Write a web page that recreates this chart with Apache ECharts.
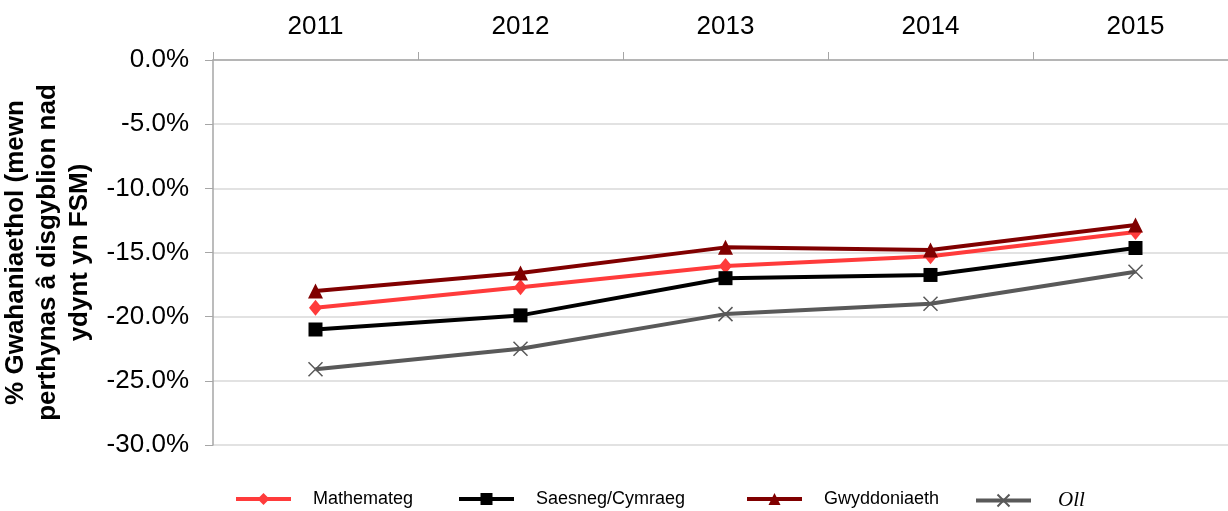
<!DOCTYPE html>
<html>
<head>
<meta charset="utf-8">
<script src="https://cdn.jsdelivr.net/npm/echarts@6/dist/echarts.min.js"></script>
<style>
  html, body { margin: 0; padding: 0; background: #fff; }
  #chart { width: 1228px; height: 511px; }
</style>
</head>
<body>
<div id="chart"></div>
<script>
var years = ['2011', '2012', '2013', '2014', '2015']
var mathemateg = [-19.3, -17.7, -16.05, -15.3, -13.4]
var saesneg = [-21.0, -19.9, -17.0, -16.75, -14.65]
var gwyddoniaeth = [-18.0, -16.6, -14.6, -14.8, -12.85]
var oll = [-24.1, -22.5, -19.8, -19.0, -16.5]

var font = 'Liberation Sans, Arial, sans-serif'
var crossPath = 'path://M0,0L10,10M10,0L0,10'

var myChart = echarts.init(document.getElementById('chart'))

// one legend per item so each one sits where the original has it
function legendAt(name, left, extra) {
  var item = { name: name }
  if (extra) item.textStyle = extra
  return {
    left: left,
    top: 490,
    padding: 0,
    itemWidth: 55,
    itemHeight: 15,
    lineStyle: { width: 4 },
    data: [item],
    textStyle: { fontFamily: font, fontSize: 18, color: '#000', padding: [0, 0, 0, 17] }
  }
}

myChart.setOption({
  animation: false,
  grid: { left: 213, top: 60, width: 1025, height: 385, outerBoundsMode: 'none', containLabel: false },
  legend: [
    legendAt('Mathemateg', 234),
    legendAt('Saesneg/Cymraeg', 457),
    legendAt('Gwyddoniaeth', 745),
    legendAt('Oll', 974, { fontFamily: 'Liberation Serif, Times New Roman, serif', fontStyle: 'italic', fontSize: 21, padding: [0, 0, 0, 22] })
  ],
  xAxis: {
    type: 'category',
    position: 'top',
    data: years,
    boundaryGap: true,
    axisLine: { lineStyle: { color: '#a6a6a6', width: 1.5 } },
    axisTick: { show: true, length: 8, lineStyle: { color: '#a6a6a6' } },
    axisLabel: { fontFamily: font, fontSize: 26, color: '#000', margin: 20 }
  },
  yAxis: {
    type: 'value',
    min: -30,
    max: 0,
    interval: 5,
    name: '% Gwahaniaethol (mewn\nperthynas â disgyblion nad\nydynt yn FSM)',
    nameLocation: 'middle',
    nameGap: 116,
    nameRotate: 90,
    nameTextStyle: { fontFamily: font, fontSize: 26, fontWeight: 'bold', color: '#000', lineHeight: 32, align: 'center' },
    axisLine: { show: true, lineStyle: { color: '#a6a6a6', width: 1.5 } },
    axisTick: { show: true, length: 8, lineStyle: { color: '#a6a6a6' } },
    splitLine: { lineStyle: { color: '#d9d9d9', width: 1.5 } },
    axisLabel: {
      fontFamily: font, fontSize: 26, color: '#000', margin: 24,
      formatter: function (v) { return v.toFixed(1) + '%' }
    }
  },
  series: [
    {
      name: 'Mathemateg', type: 'line', data: mathemateg,
      symbol: 'diamond', symbolSize: [13, 16],
      itemStyle: { color: '#ff3b3b' },
      lineStyle: { color: '#ff3b3b', width: 4 }
    },
    {
      name: 'Saesneg/Cymraeg', type: 'line', data: saesneg,
      symbol: 'rect', symbolSize: 14,
      itemStyle: { color: '#000' },
      lineStyle: { color: '#000', width: 4 }
    },
    {
      name: 'Gwyddoniaeth', type: 'line', data: gwyddoniaeth,
      symbol: 'triangle', symbolSize: 15,
      itemStyle: { color: '#800000' },
      lineStyle: { color: '#800000', width: 4 }
    },
    {
      name: 'Oll', type: 'line', data: oll,
      symbol: crossPath, symbolSize: 14,
      itemStyle: { color: 'none', borderColor: '#595959', borderWidth: 1.5 },
      lineStyle: { color: '#595959', width: 4 }
    }
  ]
})
</script>
</body>
</html>
